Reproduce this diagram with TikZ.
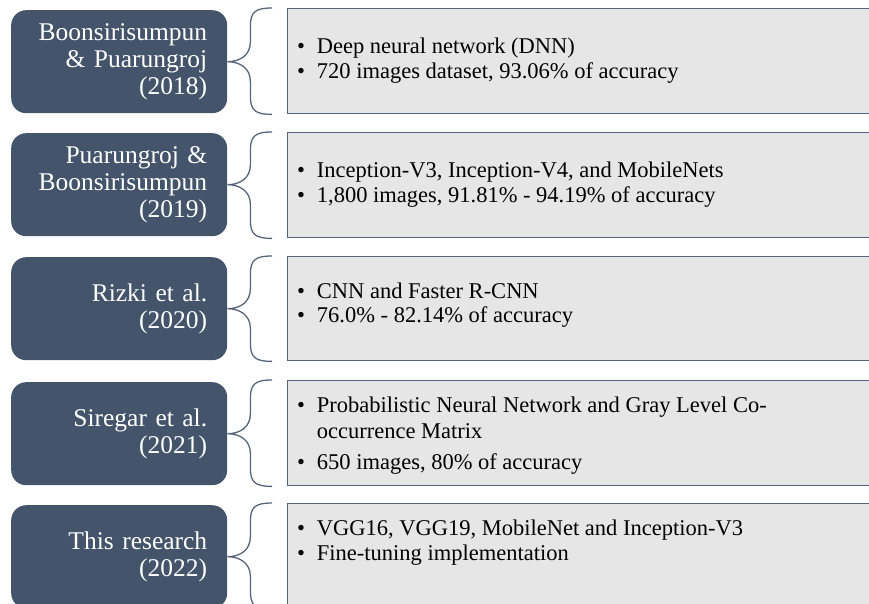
\documentclass[tikz,border=0pt]{standalone}
\usepackage{fontspec}
\setmainfont{Liberation Serif}
\usetikzlibrary{calc}
\definecolor{slate}{HTML}{44546A}
\definecolor{panel}{HTML}{E7E6E6}
\definecolor{panelline}{HTML}{56657A}
\newcommand{\authfont}{\fontsize{25.5pt}{27pt}\selectfont}
\newcommand{\notefont}{\fontsize{22.5pt}{24.5pt}\selectfont}
\newcommand{\bul}{\makebox[19.7pt][l]{\textbullet}}
\tikzset{
    authbox/.style={rectangle, rounded corners=15pt, fill=slate, text=white,
    	minimum width=216pt, minimum height=103pt, text width=176pt,
    	inner xsep=20pt, align=right, anchor=north west, font=\authfont}
}
\tikzset{
    infobox/.style={rectangle, fill=panel, draw=panelline, line width=1.4pt,
    	minimum width=593pt, minimum height=105pt, anchor=north west}
}
\tikzset{
    note/.style={inner sep=0pt, align=left, anchor=west, font=\notefont}
}
\tikzset{
    brace/.style={draw=panelline, line width=1.3pt}
}

\begin{document}
\begin{tikzpicture}[x=1pt, y=-1pt]
  \useasboundingbox (0,0) rectangle (869,604);
  \clip (0,0) rectangle (869,604);

  \node (auth1) [authbox] at (11,10) {Boonsirisumpun\\ \& Puarungroj\\ (2018)};
  \node (auth2) [authbox] at (11,133) {Puarungroj \&\\ Boonsirisumpun\\ (2019)};
  \node (auth3) [authbox] at (11,257) {Rizki et al.\\ (2020)};
  \node (auth4) [authbox] at (11,382) {Siregar et al.\\ (2021)};
  \node (auth5) [authbox] at (11,505) {This research\\ (2022)};

  \node (info1) [infobox] at (287,8) {};
  \node (info2) [infobox] at (287,132) {};
  \node (info3) [infobox, minimum height=104pt] at (287,256) {};
  \node (info4) [infobox] at (287,380) {};
  \node (info5) [infobox] at (287,503) {};

  \node (note1) [note] at (297,60.8) {\bul Deep neural network (DNN)\\
  	\bul 720 images dataset, 93.06\% of accuracy};
  \node (note2) [note] at (297,184.8) {\bul Inception-V3, Inception-V4, and MobileNets\\
  	\bul 1,800 images, 91.81\% - 94.19\% of accuracy};
  \node (note3) [note] at (297,305.3) {\bul CNN and Faster R-CNN\\
  	\bul 76.0\% - 82.14\% of accuracy};
  \node (note4) [note] at (297,435.3) {\bul Probabilistic Neural Network and Gray Level Co-\\[1.5pt]
  	\hspace*{19.7pt}occurrence Matrix\\[6.5pt]
  	\bul 650 images, 80\% of accuracy};
  \node (note5) [note] at (297,542.5) {\bul VGG16, VGG19, MobileNet and Inception-V3\\
  	\bul Fine-tuning implementation};

  \foreach \i in {1,...,5}
    \draw [brace] let \p1=(auth\i.east), \p2=(info\i.north west), \p3=(info\i.south west) in
      (\x2-15pt,\y2) .. controls (\x1+28pt,\y2) and (\x1+23pt,\y2-4pt) .. (\x1+23pt,\y2-18pt)
      -- (\x1+23pt,\y1+20pt) .. controls (\x1+23pt,\y1+6pt) and (\x1+12pt,\y1) .. (\x1,\y1)
      .. controls (\x1+12pt,\y1) and (\x1+23pt,\y1-6pt) .. (\x1+23pt,\y1-20pt)
      -- (\x1+23pt,\y3+18pt) .. controls (\x1+23pt,\y3+4pt) and (\x1+28pt,\y3) .. (\x2-15pt,\y3);
\end{tikzpicture}
\end{document}
